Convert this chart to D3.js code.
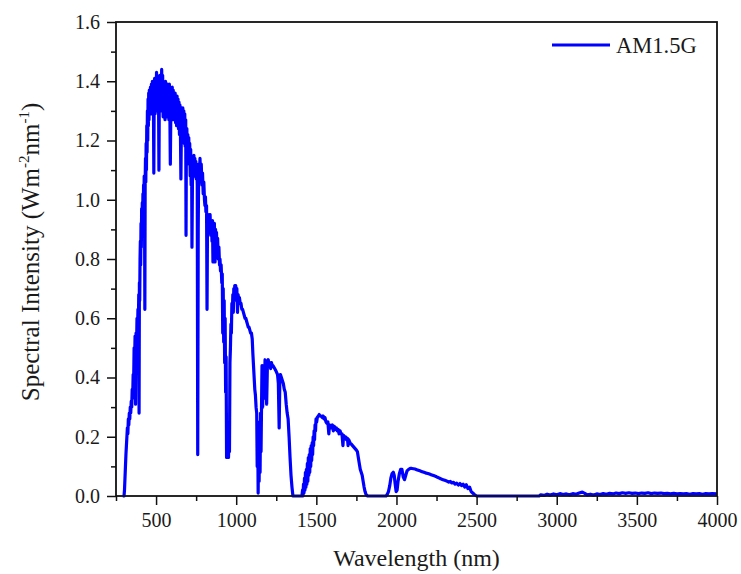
<!DOCTYPE html>
<html>
<head>
<meta charset="utf-8">
<script src="https://cdn.jsdelivr.net/npm/d3@7/dist/d3.min.js"></script>
<style>
  html, body { margin: 0; padding: 0; background: #fff; }
  svg { display: block; }
</style>
</head>
<body>
<div id="chart"></div>
<script>
// ---- Data (wavelength nm, spectral intensity W m^-2 nm^-1) ----
const bandUV = [[292,0],[300,0.0],[303,0.02],[306,0.06],[309,0.1],[312,0.14],[315,0.17],[318,0.2],[321,0.23],[324,0.21],[327,0.26],[330,0.24],[333,0.28],[336,0.26],[339,0.3],[342,0.28],[345,0.32],[348,0.3],[351,0.36],[354,0.33],[357,0.41],[360,0.38],[363,0.5],[366,0.45],[369,0.54],[372,0.31],[375,0.55],[378,0.5],[381,0.6],[384,0.55],[387,0.63],[390,0.6],[392,0.68],[394,0.28],[396,0.72],[398,0.66],[400,0.8]];

const bandVisible = [[402,0.86],[404,0.78],[406,0.92],[408,0.84],[410,0.97],[412,0.88],[414,0.99],[416,0.91],[418,1.02],[420,0.94],[422,1.05],[424,0.97],[426,1.08],[428,1.0],[430,0.63],[432,1.06],[434,1.14],[436,1.06],[438,1.19],[440,1.1],[442,1.25],[444,1.16],[446,1.3],[448,1.2],[450,1.34],[452,1.25],[454,1.36],[456,1.27],[458,1.37],[460,1.29],
[462,1.30],[465,1.38],[468,1.29],[471,1.39],[474,1.31],[477,1.40],[480,1.30],[483,1.38],[486,1.09],[488,1.32],[491,1.41],[494,1.29],[497,1.40],[500,1.33],[503,1.43],[506,1.30],[509,1.41],[512,1.34],[515,1.40],[518,1.10],[520,1.32],[523,1.42],[526,1.33],[529,1.41],[532,1.30],[535,1.44],[538,1.31],[541,1.42],[544,1.28],[547,1.40],[550,1.30],[553,1.39],[556,1.27],[559,1.40],[562,1.31],[565,1.38],[568,1.28],[571,1.39],[574,1.30],[577,1.38],[580,1.27],[583,1.39],[586,1.30],[589,1.12],[592,1.29],[595,1.37],[598,1.28],[601,1.38],[604,1.27],[607,1.37],[610,1.29],[613,1.36],[616,1.27],[619,1.36],[622,1.26],[625,1.35],[628,1.25],[631,1.35],[634,1.27],[637,1.34],[640,1.24],[643,1.33],[646,1.22],[649,1.32],[652,1.23],[655,1.07],[658,1.25],[661,1.31],[664,1.22],[667,1.31],[670,1.20],[673,1.30],[676,1.19],[679,1.29],[682,1.18],[685,1.27],[687,0.88],[689,1.18],[692,1.24],[695,1.15],[698,1.22],[701,1.13],[704,1.21],[707,1.12],[710,1.19],[713,1.08],[716,1.17],[719,1.05],[722,1.12],[724,0.84],[727,1.06],[730,1.14],[733,1.08],[736,1.15],[739,1.09],[742,1.14],[745,1.08],[748,1.13],[751,1.07],[754,1.12],[757,1.05],[760,0.14]];

const bandNIR1 = [[763,0.9],[766,1.12],[770,1.06],[774,1.14],[778,1.08],[782,1.12],[786,1.05],[790,1.09],[794,1.02],[798,1.06],[802,1.00],[805,0.98],[808,1.01],[811,0.96],[815,0.98],[818,0.63],[821,0.92],[825,0.95],[829,0.90],[833,0.94],[837,0.95],[841,0.88],[845,0.93],[849,0.86],[852,0.93],[855,0.79],[858,0.91],[861,0.85],[864,0.92],[868,0.79],[871,0.90],[874,0.84],[877,0.89],[880,0.82],[884,0.87],[888,0.80],[892,0.84],[896,0.78],[899,0.80],[902,0.76],[906,0.78],[910,0.72],[913,0.75],[916,0.55],[919,0.70],[922,0.52],[925,0.66],[928,0.45],[931,0.6],[934,0.35],[937,0.47],[940,0.13],[943,0.25],[946,0.14],[949,0.22],[952,0.13],[955,0.2],[958,0.15],[961,0.45],[964,0.5],[967,0.58],[970,0.55],[973,0.65],[976,0.62],[979,0.68],[982,0.62],[985,0.70],[988,0.66],[991,0.71],[994,0.70],[997,0.71],[1000,0.69],[1004,0.70],[1008,0.62],[1012,0.68],[1016,0.66],[1020,0.67],[1025,0.65],[1030,0.65],[1035,0.63],[1040,0.63],[1045,0.62],[1050,0.61],[1055,0.60],[1060,0.60],[1065,0.59],[1070,0.58],[1075,0.57],[1080,0.57],[1085,0.56],[1090,0.55],[1095,0.55],[1100,0.53],[1104,0.48],[1108,0.44],[1112,0.40],[1116,0.36],[1120,0.34],[1124,0.30],[1128,0.28]];

const bandNIR2 = [[1131,0.10],[1134,0.25],[1137,0.01],[1140,0.2],[1143,0.05],[1146,0.22],[1149,0.08],[1152,0.28],[1155,0.15],[1158,0.30],[1161,0.44],[1165,0.30],[1170,0.44],[1175,0.33],[1180,0.46],[1185,0.40],[1190,0.31],[1195,0.45],[1200,0.46],[1205,0.44],[1210,0.45],[1215,0.43],[1220,0.45],[1225,0.44],[1230,0.44],[1240,0.43],[1250,0.42],[1258,0.41],[1263,0.38],[1268,0.23],[1272,0.38],[1276,0.41],[1282,0.40],[1288,0.39],[1294,0.38],[1300,0.36],[1306,0.35],[1312,0.31],[1318,0.28],[1324,0.26],[1330,0.20],[1336,0.13],[1342,0.07],[1348,0.03],[1354,0.0],[1410,0.0]];

const bandSWIR1 = [[1414,0.02],[1417,0.0],[1420,0.04],[1423,0.01],[1426,0.06],[1429,0.02],[1432,0.08],[1435,0.03],[1438,0.09],[1441,0.04],[1444,0.11],[1447,0.05],[1450,0.13],[1453,0.07],[1456,0.14],[1459,0.08],[1462,0.16],[1465,0.1],[1468,0.17],[1471,0.12],[1474,0.18],[1477,0.14],[1480,0.2],[1483,0.17],[1486,0.22],[1489,0.19],[1492,0.24],[1495,0.22],[1498,0.26],[1502,0.25],[1506,0.265],[1512,0.27],[1518,0.275],[1524,0.27],[1530,0.27],[1536,0.265],[1542,0.27],[1548,0.26],[1554,0.265],[1560,0.25],[1566,0.245],[1572,0.25],[1578,0.21],[1582,0.24],[1588,0.235],[1594,0.23],[1600,0.24],[1606,0.22],[1612,0.235],[1618,0.225],[1624,0.23],[1630,0.22],[1636,0.225],[1642,0.21],[1648,0.22],[1654,0.21],[1660,0.21],[1666,0.17],[1670,0.205],[1676,0.2],[1682,0.2],[1688,0.19],[1694,0.195],[1698,0.17],[1702,0.19],[1710,0.18],[1718,0.175],[1726,0.17],[1734,0.165],[1742,0.16],[1750,0.155],[1756,0.15],[1762,0.13],[1768,0.11],[1774,0.09],[1780,0.08],[1786,0.07],[1792,0.05],[1798,0.03],[1804,0.015],[1810,0.005],[1820,0.0],[1935,0.0]];

const bandSWIR2 = [[1942,0.005],[1950,0.015],[1958,0.035],[1965,0.06],[1972,0.075],[1980,0.08],[1986,0.07],[1992,0.04],[1998,0.015],[2004,0.02],[2010,0.05],[2018,0.075],[2026,0.09],[2034,0.09],[2042,0.065],[2050,0.055],[2058,0.07],[2066,0.085],[2076,0.09],[2086,0.093],[2096,0.093],[2106,0.092],[2116,0.091],[2126,0.089],[2136,0.087],[2146,0.085],[2156,0.083],[2166,0.081],[2176,0.079],[2186,0.077],[2196,0.076],[2206,0.074],[2216,0.072],[2226,0.07],[2236,0.068],[2246,0.066],[2256,0.063],[2266,0.061],[2276,0.058],[2286,0.056],[2296,0.054],[2306,0.052],[2316,0.05],[2326,0.047],[2336,0.049],[2346,0.044],[2356,0.046],[2366,0.04],[2376,0.043],[2386,0.037],[2396,0.042],[2406,0.035],[2416,0.04],[2426,0.03],[2436,0.038],[2446,0.025],[2456,0.03],[2466,0.015],[2476,0.01],[2486,0.005],[2500,0.0],[2890,0.0]];

const bandMIR = [[2900,0.004],[2920,0.002],[2940,0.006],[2960,0.003],[2980,0.007],[3000,0.004],[3020,0.008],[3040,0.005],[3060,0.007],[3080,0.004],[3100,0.008],[3120,0.006],[3140,0.01],[3160,0.013],[3175,0.009],[3190,0.004],[3210,0.006],[3230,0.003],[3250,0.007],[3270,0.005],[3290,0.008],[3310,0.006],[3330,0.009],[3350,0.007],[3370,0.01],[3390,0.008],[3410,0.011],[3430,0.009],[3450,0.011],[3470,0.009],[3490,0.01],[3510,0.008],[3530,0.01],[3550,0.009],[3570,0.011],[3590,0.008],[3610,0.01],[3630,0.009],[3650,0.01],[3670,0.008],[3690,0.009],[3710,0.007],[3730,0.009],[3750,0.007],[3770,0.008],[3790,0.007],[3810,0.008],[3830,0.006],[3850,0.008],[3870,0.007],[3890,0.008],[3910,0.006],[3930,0.008],[3950,0.007],[3970,0.008],[4000,0.007]];

const xMajorTicks = [500, 1000, 1500, 2000, 2500, 3000, 3500, 4000];
const xMinorTicks = [250, 750, 1250, 1750, 2250, 2750, 3250, 3750];
const yMajorTicks = [0.0, 0.2, 0.4, 0.6, 0.8, 1.0, 1.2, 1.4, 1.6];
const yMinorTicks = [0.1, 0.3, 0.5, 0.7, 0.9, 1.1, 1.3, 1.5];
const seriesName = "AM1.5G";
const xTitle = "Wavelength (nm)";

// ---- Layout ----
const W = 741, H = 574;
const plot = { left: 116, right: 717, top: 22, bottom: 496 };
const blue = "#0000ff";
const FONT = "Liberation Serif";
const textColor = "#1a1a1a";

const spectrum = [].concat(bandUV, bandVisible, bandNIR1, bandNIR2, bandSWIR1, bandSWIR2, bandMIR);

const svg = d3.select("#chart").append("svg").attr("width", W).attr("height", H);

const x = d3.scaleLinear().domain([250, 4000]).range([plot.left, plot.right]);
const y = d3.scaleLinear().domain([0, 1.6]).range([plot.bottom, plot.top]);

// spectrum line
const line = d3.line().x(d => x(d[0])).y(d => y(d[1]));
svg.append("path")
  .datum(spectrum)
  .attr("d", line)
  .style("fill", "none")
  .style("stroke", blue)
  .style("stroke-width", "3.2px")
  .style("stroke-linejoin", "round");

// axes
function styleAxis(g) {
  g.attr("font-family", FONT).attr("font-size", 20);
  g.select(".domain").remove();
  g.selectAll(".tick line").style("stroke", "#111").style("stroke-width", "1.5px");
  g.selectAll(".tick text")
    .attr("font-family", FONT)
    .style("font-family", '"Liberation Serif"')
    .style("font-size", "20px").style("fill", textColor);
}
svg.append("g").attr("transform", `translate(0,${plot.bottom})`)
  .call(d3.axisBottom(x).tickValues(xMajorTicks).tickSize(9).tickPadding(8).tickFormat(d3.format("d")))
  .call(styleAxis);
svg.append("g").attr("transform", `translate(0,${plot.bottom})`)
  .call(d3.axisBottom(x).tickValues(xMinorTicks).tickSize(5).tickFormat(""))
  .call(styleAxis);
svg.append("g").attr("transform", `translate(${plot.left},0)`)
  .call(d3.axisLeft(y).tickValues(yMajorTicks).tickSize(9).tickPadding(7).tickFormat(d3.format(".1f")))
  .call(styleAxis);
svg.append("g").attr("transform", `translate(${plot.left},0)`)
  .call(d3.axisLeft(y).tickValues(yMinorTicks).tickSize(5).tickFormat(""))
  .call(styleAxis);

// frame
svg.append("rect")
  .attr("x", plot.left).attr("y", plot.top)
  .attr("width", plot.right - plot.left).attr("height", plot.bottom - plot.top)
  .style("fill", "none").style("stroke", "#111").style("stroke-width", "1.8px");

// axis titles
svg.append("text")
  .attr("x", (plot.left + plot.right) / 2).attr("y", 566)
  .attr("text-anchor", "middle")
  .attr("font-family", FONT).attr("font-size", 24)
  .style("font-family", '"Liberation Serif"').style("font-size", "24px").style("fill", textColor)
  .text(xTitle);

const yt = svg.append("text")
  .attr("transform", `translate(39,252) rotate(-90)`)
  .attr("text-anchor", "middle")
  .attr("font-family", FONT).attr("font-size", 25)
  .style("font-family", '"Liberation Serif"').style("font-size", "25px").style("fill", textColor);
yt.append("tspan").text("Spectral Intensity (Wm");
yt.append("tspan").attr("dy", -10).style("font-size", "15px").text("-2");
yt.append("tspan").attr("dy", 10).text("nm");
yt.append("tspan").attr("dy", -10).style("font-size", "15px").text("-1");
yt.append("tspan").attr("dy", 10).text(")");

// legend
const legX1 = 552, legX2 = 610, legY = 45;
svg.append("line").attr("x1", legX1).attr("x2", legX2).attr("y1", legY).attr("y2", legY)
  .style("stroke", blue).style("stroke-width", "2.8px");
svg.append("text").attr("x", 616).attr("y", legY + 8)
  .attr("font-family", FONT).attr("font-size", 22.5)
  .style("font-family", '"Liberation Serif"').style("font-size", "22.5px").style("fill", textColor)
  .text(seriesName);
</script>
</body>
</html>
